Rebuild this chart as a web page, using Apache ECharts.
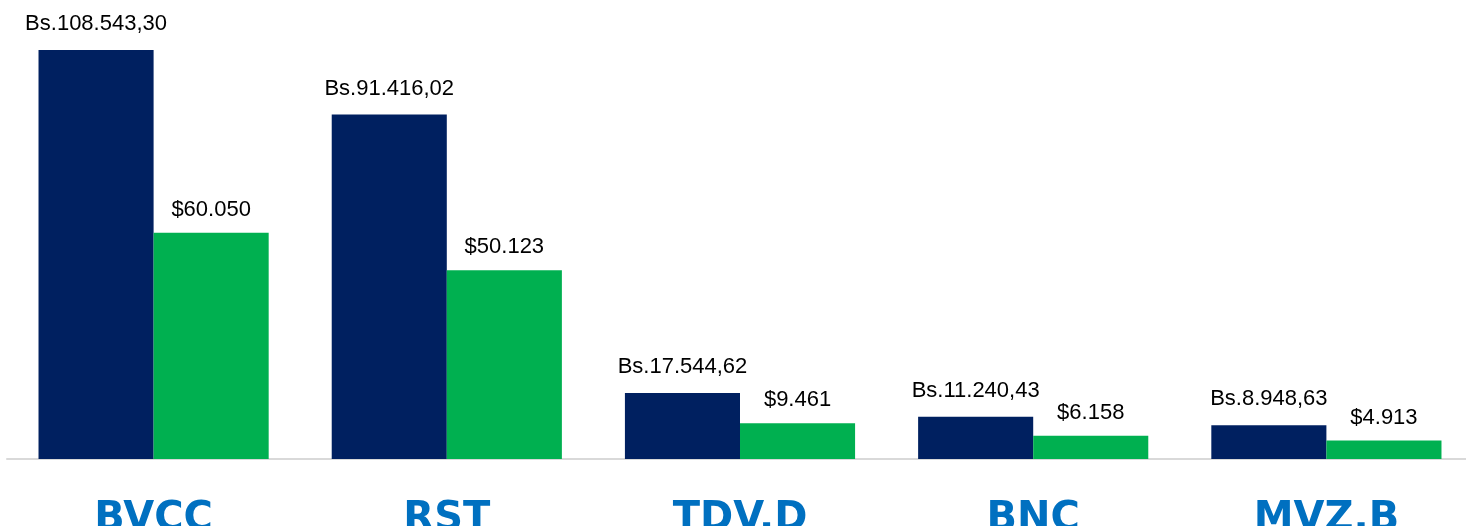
<!DOCTYPE html>
<html>
<head>
<meta charset="utf-8">
<script src="https://cdn.jsdelivr.net/npm/echarts@6/dist/echarts.min.js"></script>
<style>
  html, body { margin: 0; padding: 0; background: #fff; }
  #chart { width: 1466px; height: 526px; }
</style>
</head>
<body>
<div id="chart"></div>
<script>
// data
const categories = ['BVCC', 'RST', 'TDV.D', 'BNC', 'MVZ.B']
const bsValues = [108543.30, 91416.02, 17544.62, 11240.43, 8948.63]
const usdValues = [60050, 50123, 9461, 6158, 4913]

// 108543.3 -> "108.543,30"
function fmt(v, decimals) {
  let parts = v.toFixed(decimals).split('.')
  let int = parts[0].replace(/\B(?=(\d{3})+(?!\d))/g, '.')
  return decimals ? int + ',' + parts[1] : int
}

const chart = echarts.init(document.getElementById('chart'))

const labelStyle = {
  show: true,
  position: 'top',
  distance: 12,
  color: '#000',
  fontSize: 22,
  fontFamily: 'Liberation Sans, Arial, sans-serif'
}

chart.setOption({
  animation: false,
  grid: {
    left: 7,
    width: 1466,
    top: 50,
    bottom: 67,
    containLabel: false,
    outerBoundsMode: 'none'
  },
  xAxis: {
    type: 'category',
    data: categories,
    axisTick: { show: false },
    axisLine: { lineStyle: { color: '#d9d9d9', width: 2 } },
    axisLabel: {
      margin: 41,
      color: '#0070c0',
      fontSize: 40,
      fontWeight: 'bold',
      fontFamily: 'DejaVu Sans, sans-serif'
    }
  },
  yAxis: {
    type: 'value',
    min: 0,
    max: 108543.3,
    show: false,
    splitLine: { show: false }
  },
  series: [
    {
      name: 'Bs',
      type: 'bar',
      data: bsValues,
      barGap: '0%',
      barCategoryGap: '21.5%',
      itemStyle: { color: '#002060' },
      label: Object.assign({}, labelStyle, {
        distance: 15,
        formatter: (p) => 'Bs.' + fmt(p.value, 2)
      })
    },
    {
      name: 'USD',
      type: 'bar',
      data: usdValues,
      itemStyle: { color: '#00b050' },
      label: Object.assign({}, labelStyle, {
        formatter: (p) => '$' + fmt(p.value, 0)
      })
    }
  ]
})
</script>
</body>
</html>
